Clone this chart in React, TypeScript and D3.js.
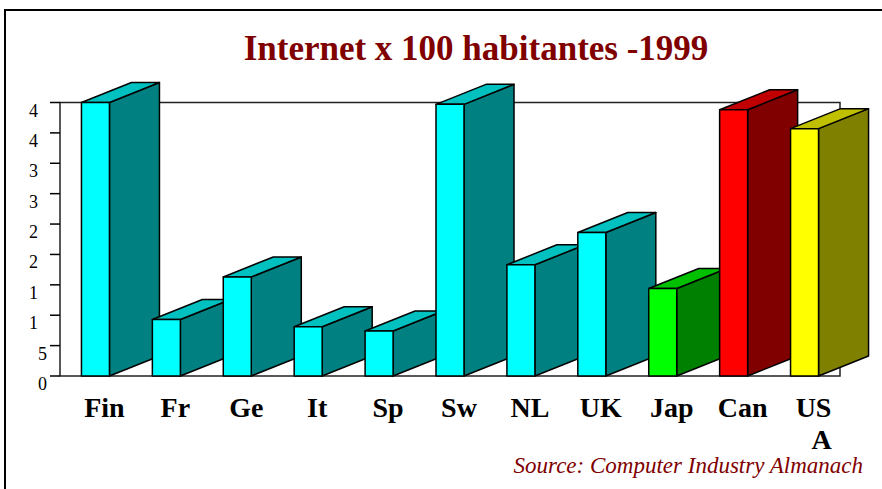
import React from 'react';
import * as d3 from 'd3';

const categories = ['Fin', 'Fr', 'Ge', 'It', 'Sp', 'Sw', 'NL', 'UK', 'Jap', 'Can', 'USA'];
const values = [45, 9.3, 16.3, 8.1, 7.4, 44.7, 18.3, 23.6, 14.4, 43.8, 40.7];
const yTicks = [0, 5, 10, 15, 20, 25, 30, 35, 40, 45];

// front / side / top shades
const cyan = ['#00ffff', '#008080', '#00c0c0'];
const green = ['#00ff00', '#008000', '#00c000'];
const red = ['#ff0000', '#800000', '#c00000'];
const yellow = ['#ffff00', '#808000', '#c0c000'];
const barColors = [cyan, cyan, cyan, cyan, cyan, cyan, cyan, cyan, green, red, yellow];

const W = 882;
const H = 489;
const plot = { left: 60, right: 840, top: 102.5, bottom: 376 };
const depthX = 50;
const depthY = 20;
const barW = 28;
const serif = "'Liberation Serif', 'Times New Roman', 'DejaVu Serif', serif";

const App: React.FC = () => {
    const x = d3.scaleBand<string>().domain(categories).range([plot.left, plot.right]);
    const y = d3.scaleLinear().domain([0, 45]).range([plot.bottom, plot.top]);

    return (
        <svg width={W} height={H} style={{ position: 'absolute', left: 0, top: 0 }} fontFamily={serif}>
            <rect x={0} y={0} width={W} height={H} fill="#fff" />
            <rect x={5} y={10} width={W + 20} height={H + 20} fill="none" stroke="#000" strokeWidth={2} />

            <text x={476} y={60} textAnchor="middle" fontSize={35} fontWeight="bold" fill="#800000">
                Internet x 100 habitantes -1999
            </text>

            {/* plot frame */}
            <rect x={plot.left} y={plot.top} width={plot.right - plot.left} height={plot.bottom - plot.top} fill="none" stroke="#222" strokeWidth={1.5} />

            {/* y axis, labels cut to first char like the original */}
            {yTicks.map((t) => (
                <g key={t}>
                    <line x1={50} x2={plot.left} y1={y(t)} y2={y(t)} stroke="#000" strokeWidth={1.5} />
                    <text x={47} y={y(t) + 14} textAnchor="end" fontSize={18} fill="#000">
                        {String(t)[0]}
                        <tspan fillOpacity={0}>{String(t).slice(1)}</tspan>
                    </text>
                </g>
            ))}

            {/* bars */}
            {categories.map((c, i) => {
                const x0 = (x(c) as number) + (x.bandwidth() - barW) / 2;
                const x1 = x0 + barW;
                const yt = y(values[i]);
                const yb = y(0);
                const [front, side, top] = barColors[i];
                return (
                    <g key={c} stroke="#000" strokeWidth={1.5} strokeLinejoin="round">
                        <path d={`M${x1},${yb}L${x1 + depthX},${yb - depthY}L${x1 + depthX},${yt - depthY}L${x1},${yt}Z`} fill={side} />
                        <path d={`M${x0},${yt}L${x0 + depthX},${yt - depthY}L${x1 + depthX},${yt - depthY}L${x1},${yt}Z`} fill={top} />
                        <rect x={x0} y={yt} width={barW} height={yb - yt} fill={front} />
                    </g>
                );
            })}

            {/* category labels */}
            {categories.map((c) => {
                const lines = c === 'USA' ? ['US', 'A'] : [c];
                const cx = (x(c) as number) + x.bandwidth() / 2 + 9;
                return (
                    <text key={c} x={cx} y={417} textAnchor="middle" fontSize={28} fontWeight="bold" fill="#000">
                        {lines.map((l, k) => (
                            <tspan key={k} x={cx + (k > 0 ? 8 : 0)} dy={k === 0 ? 0 : 32}>
                                {l}
                            </tspan>
                        ))}
                    </text>
                );
            })}

            <text x={863} y={473} textAnchor="end" fontSize={23} fontStyle="italic" fontFamily="'Liberation Serif', serif" fill="#800000">
                Source: Computer Industry Almanach
            </text>
        </svg>
    );
};

export default App;
